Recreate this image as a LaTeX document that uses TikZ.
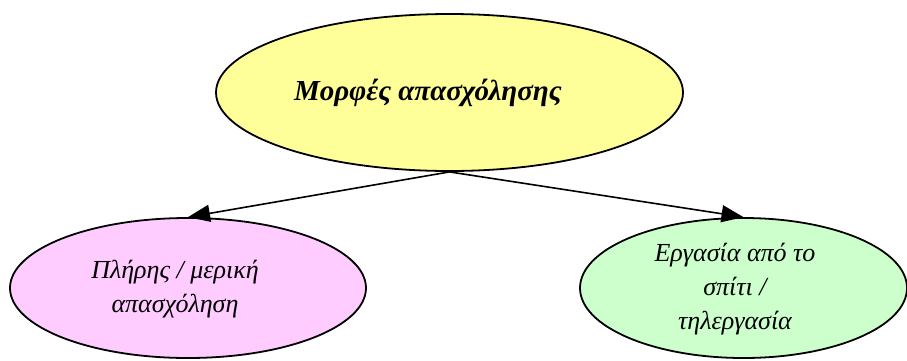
\documentclass[tikz,border=0pt]{standalone}
\usepackage{fontspec}
\setmainfont{Liberation Serif}
\usetikzlibrary{shapes.geometric,arrows.meta}
\definecolor{topfill}{HTML}{FFFF99}
\definecolor{leftfill}{HTML}{FFCCFF}
\definecolor{rightfill}{HTML}{CCFFCC}
\tikzset{
  oval/.style={ellipse,draw=black,line width=1.8pt,inner sep=0pt},
  lbl/.style={font=\fontsize{26}{34}\selectfont\itshape,align=center,inner sep=0pt},
  conn/.style={line width=1.6pt,-{Triangle[length=22pt,width=17pt]}}
}
\begin{document}
\begin{tikzpicture}[x=1pt,y=-1pt]
\useasboundingbox (0,0) rectangle (907,360);
\node[oval,fill=topfill,minimum width=467pt,minimum height=157pt] (top) at (449.5,92.5) {};
\node[oval,fill=leftfill,minimum width=356pt,minimum height=140pt] (left) at (188,288) {};
\node[oval,fill=rightfill,minimum width=327pt,minimum height=140pt] (right) at (743.5,288) {};
\node[lbl,font=\fontsize{29}{34}\selectfont\bfseries\itshape] (toplbl) at (428,93) {Μορφές απασχόλησης};
\node[lbl] (leftlbl) at (175,289) {Πλήρης / μερική\\απασχόληση};
\node[lbl] (rightlbl) at (735,289) {Εργασία από το\\σπίτι /\\τηλεργασία};
\draw[conn] (top.south) -- (left.north);
\draw[conn] (top.south) -- (right.north);
\end{tikzpicture}
\end{document}
